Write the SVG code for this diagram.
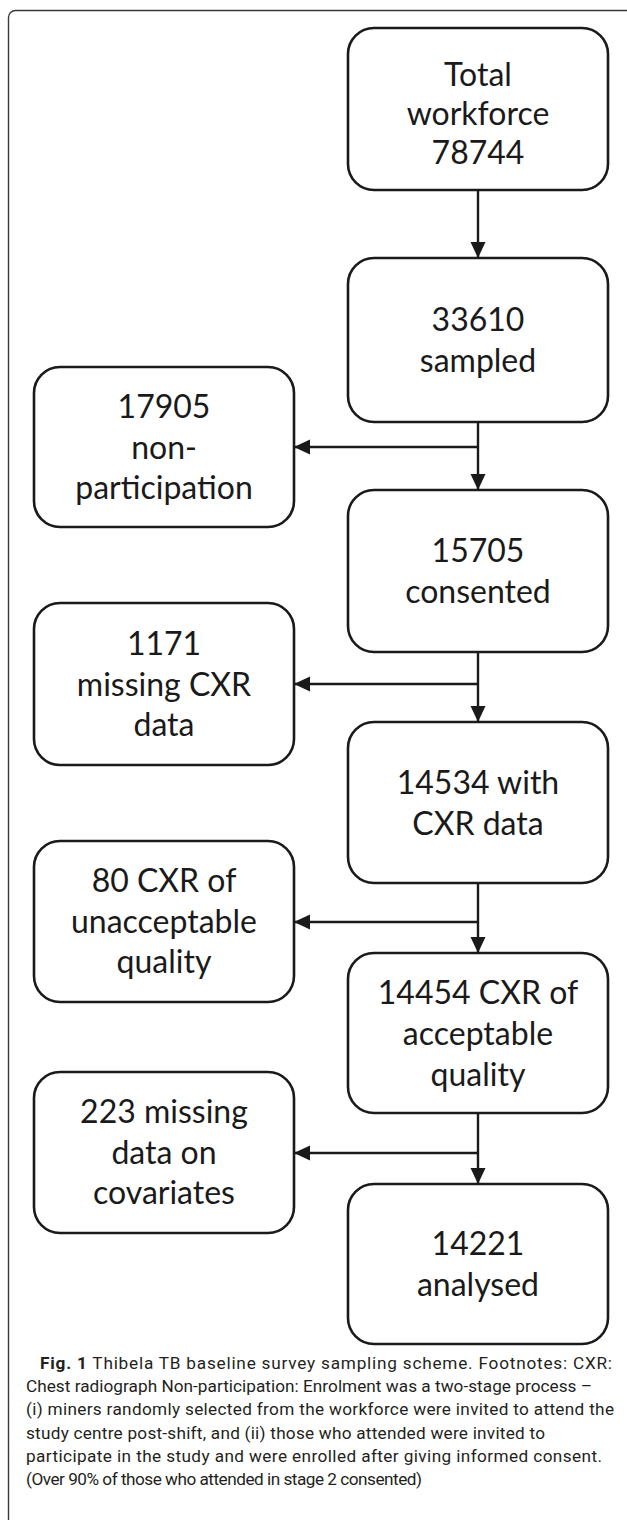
<svg xmlns="http://www.w3.org/2000/svg" width="627" height="1520" viewBox="0 0 627 1520">
<style>
.frame{fill:none;stroke:#3a3a3a;stroke-width:1.4}
.box{fill:#fff;stroke:#1a1a1a;stroke-width:2.6}
.t{font-family:Lato,"Open Sans","DejaVu Sans",sans-serif;font-size:32px;fill:#1a1a1a;text-anchor:middle}
.conn{fill:none;stroke:#1a1a1a;stroke-width:2.4}
.cap{font-family:Roboto,"Open Sans","Noto Sans",sans-serif;font-size:17.2px;fill:#231f20}
.capb{font-weight:bold}
</style>
<defs>
<marker id="ah" markerUnits="userSpaceOnUse" markerWidth="16" markerHeight="16" viewBox="0 0 16 16" refX="16" refY="8" orient="auto">
<path d="M0,0.5 L16,8 L0,15.5 Z" fill="#1a1a1a"/>
</marker>
</defs>
<rect class="frame" x="8.5" y="10.5" width="640" height="1540" rx="7"/>

<g id="n1"><rect class="box" x="348" y="28" width="260" height="162" rx="26"/>
<text class="t" x="478" y="86">Total</text><text class="t" x="478" y="125">workforce</text><text class="t" x="478" y="164">78744</text></g>
<g id="n2"><rect class="box" x="348" y="258" width="260" height="164" rx="26"/>
<text class="t" x="478" y="331">33610</text><text class="t" x="478" y="372">sampled</text></g>
<g id="n3"><rect class="box" x="348" y="490" width="260" height="162" rx="26"/>
<text class="t" x="478" y="562">15705</text><text class="t" x="478" y="603">consented</text></g>
<g id="n4"><rect class="box" x="348" y="722" width="260" height="161" rx="26"/>
<text class="t" x="478" y="794">14534 with</text><text class="t" x="478" y="835">CXR data</text></g>
<g id="n5"><rect class="box" x="348" y="953" width="260" height="160" rx="26"/>
<text class="t" x="478" y="1004">14454 CXR of</text><text class="t" x="478" y="1045">acceptable</text><text class="t" x="478" y="1086">quality</text></g>
<g id="n6"><rect class="box" x="348" y="1184" width="260" height="160" rx="26"/>
<text class="t" x="478" y="1255">14221</text><text class="t" x="478" y="1296">analysed</text></g>

<g id="e1"><rect class="box" x="34" y="367" width="260" height="160" rx="26"/>
<text class="t" x="164" y="418">17905</text><text class="t" x="164" y="459">non-</text><text class="t" x="164" y="499">participation</text></g>
<g id="e2"><rect class="box" x="34" y="603" width="260" height="162" rx="26"/>
<text class="t" x="164" y="655">1171</text><text class="t" x="164" y="696">missing CXR</text><text class="t" x="164" y="736">data</text></g>
<g id="e3"><rect class="box" x="34" y="841" width="260" height="161" rx="26"/>
<text class="t" x="164" y="892">80 CXR of</text><text class="t" x="164" y="933">unacceptable</text><text class="t" x="164" y="973">quality</text></g>
<g id="e4"><rect class="box" x="34" y="1072" width="260" height="161" rx="26"/>
<text class="t" x="164" y="1123">223 missing</text><text class="t" x="164" y="1164">data on</text><text class="t" x="164" y="1204">covariates</text></g>

<g id="connectors">
<line class="conn" x1="478" y1="190" x2="478" y2="258" marker-end="url(#ah)"/>
<line class="conn" x1="478" y1="422" x2="478" y2="490" marker-end="url(#ah)"/>
<line class="conn" x1="478" y1="447" x2="294" y2="447" marker-end="url(#ah)"/>
<line class="conn" x1="478" y1="652" x2="478" y2="722" marker-end="url(#ah)"/>
<line class="conn" x1="478" y1="684" x2="294" y2="684" marker-end="url(#ah)"/>
<line class="conn" x1="478" y1="883" x2="478" y2="953" marker-end="url(#ah)"/>
<line class="conn" x1="478" y1="922" x2="294" y2="922" marker-end="url(#ah)"/>
<line class="conn" x1="478" y1="1113" x2="478" y2="1184" marker-end="url(#ah)"/>
<line class="conn" x1="478" y1="1153" x2="294" y2="1153" marker-end="url(#ah)"/>
</g>

<g id="caption" class="cap">
<text x="40" y="1369" textLength="572" lengthAdjust="spacing"><tspan class="capb">Fig. 1</tspan> Thibela TB baseline survey sampling scheme. Footnotes: CXR:</text>
<text x="26" y="1392" textLength="566" lengthAdjust="spacing">Chest radiograph Non-participation: Enrolment was a two-stage process –</text>
<text x="26" y="1415" textLength="588" lengthAdjust="spacing">(i) miners randomly selected from the workforce were invited to attend the</text>
<text x="26" y="1439" textLength="519" lengthAdjust="spacing">study centre post-shift, and (ii) those who attended were invited to</text>
<text x="26" y="1462" textLength="576" lengthAdjust="spacing">participate in the study and were enrolled after giving informed consent.</text>
<text x="26" y="1485" textLength="396" lengthAdjust="spacing">(Over 90% of those who attended in stage 2 consented)</text>
</g>
</svg>
